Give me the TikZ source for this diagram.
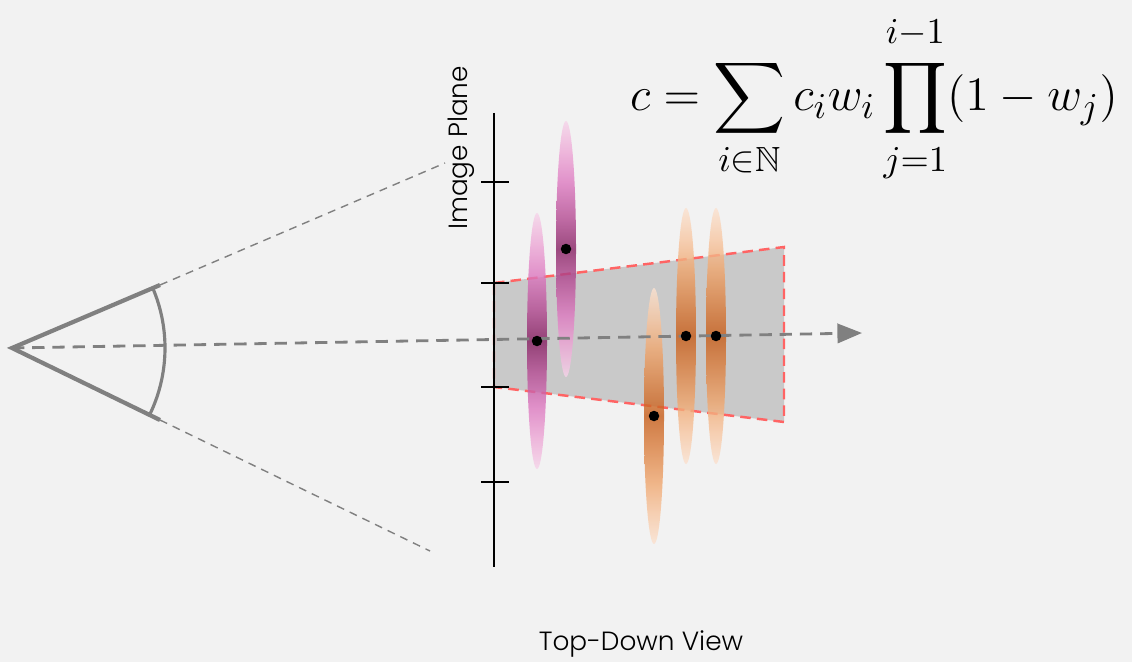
\documentclass[tikz,border=0pt]{standalone}
\usepackage{amsmath,amssymb}
\usepackage[no-math]{fontspec}
\setmainfont{Poppins}[UprightFont=* Light]
\usetikzlibrary{arrows.meta}
\definecolor{bgcol}{HTML}{F2F2F2}
\definecolor{raygray}{HTML}{808080}
\definecolor{frustgray}{HTML}{C9C9C9}
\definecolor{edgered}{HTML}{FF6464}
\definecolor{pinkedge}{HTML}{F6D4E9}
\definecolor{pinklight}{HTML}{EDA8D6}
\definecolor{pinkmid}{HTML}{DD79C0}
\definecolor{pinkdeep}{HTML}{B44A92}
\definecolor{pinkdark}{HTML}{862062}
\definecolor{orangeedge}{HTML}{FBE2D0}
\definecolor{orangelight}{HTML}{F7C7A3}
\definecolor{orangemid}{HTML}{EFA66E}
\definecolor{orangedeep}{HTML}{DA7E3E}
\definecolor{orangedark}{HTML}{C65C18}
\pgfdeclareverticalshading{pinkbar}{100bp}{color(0bp)=(pinkedge); color(25bp)=(pinkedge); color(31bp)=(pinklight); color(37bp)=(pinkmid); color(44bp)=(pinkdeep); color(50bp)=(pinkdark); color(56bp)=(pinkdeep); color(63bp)=(pinkmid); color(69bp)=(pinklight); color(75bp)=(pinkedge); color(100bp)=(pinkedge)}
\pgfdeclareverticalshading{orangebar}{100bp}{color(0bp)=(orangeedge); color(25bp)=(orangeedge); color(31bp)=(orangelight); color(37bp)=(orangemid); color(44bp)=(orangedeep); color(50bp)=(orangedark); color(56bp)=(orangedeep); color(63bp)=(orangemid); color(69bp)=(orangelight); color(75bp)=(orangeedge); color(100bp)=(orangeedge)}
\tikzset{
  eyeline/.style={raygray,line width=2.4pt,line cap=butt},
  frustum/.style={raygray,line width=0.8pt,dash pattern=on 4.5pt off 3.5pt},
  centerray/.style={raygray,line width=1.6pt,dash pattern=on 7pt off 4.5pt,-{Triangle[length=14pt,width=11pt]}},
  planeline/.style={black,line width=1.4pt},
  tickline/.style={black,line width=0.8pt},
  frustedge/.style={edgered,line width=1.4pt,dash pattern=on 6pt off 3.5pt},
  gdot/.style={circle,fill=black,inner sep=0pt,minimum size=0.21cm},
}
\begin{document}
\begin{tikzpicture}[x=0.02cm,y=-0.02cm,every node/.style={font=\fontsize{15}{18}\selectfont}]
% pixel grid, y runs downwards
\useasboundingbox[fill=bgcol] (0,0) rectangle (1132,662);
\coordinate (eye) at (12,348); \coordinate (eyeup) at (160,285); \coordinate (eyelo) at (160,420);
\coordinate (rayup) at (445,163); \coordinate (raylo) at (430,551); \coordinate (rayend) at (862,333);
\draw[eyeline] (eyeup) -- (eye) -- (eyelo);
\draw[eyeline,line width=1.8pt] (eye) ++(-23:153) arc[start angle=-23,end angle=26,radius=153];
\draw[frustum] (eyeup) -- (rayup); \draw[frustum] (eyelo) -- (raylo);
\coordinate (f1) at (494,283); \coordinate (f2) at (784,247); \coordinate (f3) at (784,422); \coordinate (f4) at (494,387);
\fill[frustgray] (f1) -- (f2) -- (f3) -- (f4) -- cycle;
\draw[frustedge] (f1) -- (f2) -- (f3) -- (f4) -- cycle;
\coordinate (ptop) at (494,113); \coordinate (pbot) at (494,567);
\draw[planeline] (ptop) -- (pbot);
\foreach \y in {182,283,387,482} {\draw[tickline] (481,\y) -- (509,\y);}
\foreach \x/\y/\s in {537/341/pinkbar,566/249/pinkbar,654/416/orangebar,686/336/orangebar,716/336/orangebar} {\shade[shading=\s,opacity=0.8] (\x,\y) ellipse[x radius=10,y radius=128];}
\draw[centerray] (eye) -- (rayend);
\foreach \x/\y [count=\k] in {537/341,566/249,654/416,686/336,716/336} {\node[gdot] (g\k) at (\x,\y) {};}
\node[rotate=90] (planelbl) at (461,148) {Image Plane};
\node (viewlbl) at (641,644) {Top-Down View};
\node (blend) at (874,99) {\resizebox{9.76cm}{!}{$\displaystyle c=\sum_{i\in\mathbb{N}} c_i w_i \prod_{j=1}^{\raisebox{1.5pt}{$\scriptstyle i-1$}}(1-w_j)$}};
\end{tikzpicture}
\end{document}
